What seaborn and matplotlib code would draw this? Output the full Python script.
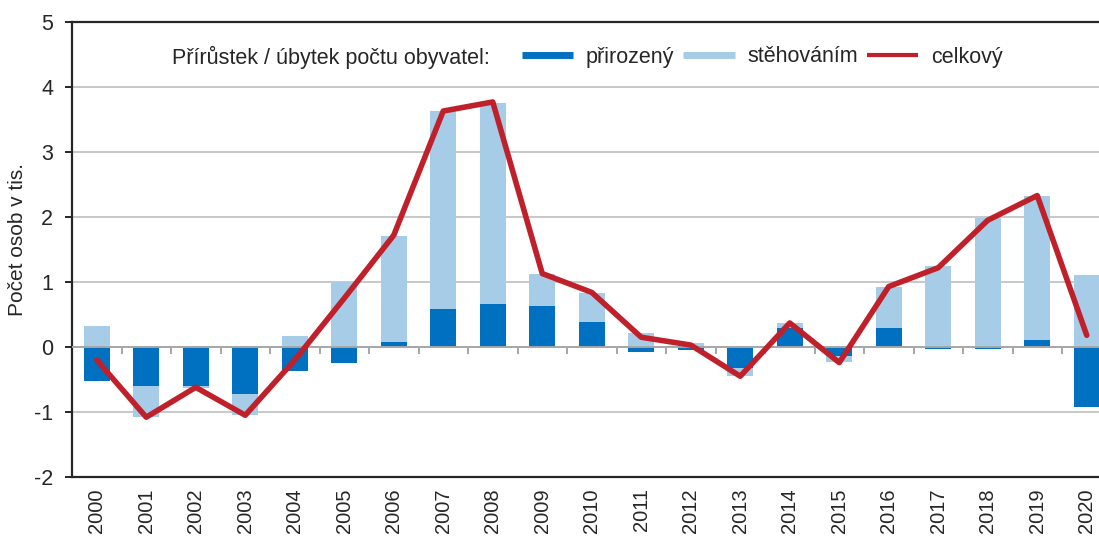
import numpy as np
import pandas as pd
import seaborn as sns
import matplotlib.pyplot as plt
from matplotlib.lines import Line2D

years = [str(y) for y in range(2000, 2021)]
prirozeny = [-0.52, -0.60, -0.60, -0.72, -0.37, -0.25, 0.08, 0.58, 0.66, 0.63, 0.39,
             -0.07, -0.04, -0.32, 0.29, -0.14, 0.29, -0.03, -0.03, 0.11, -0.93]
stehovanim = [0.32, -0.48, -0.03, -0.33, 0.17, 1.00, 1.63, 3.05, 3.10, 0.49, 0.44,
              0.21, 0.06, -0.13, 0.08, -0.09, 0.64, 1.25, 1.98, 2.22, 1.11]
celkovy = [-0.20, -1.08, -0.62, -1.05, -0.20, 0.75, 1.72, 3.63, 3.77, 1.13, 0.84,
           0.15, 0.03, -0.45, 0.37, -0.24, 0.93, 1.22, 1.95, 2.33, 0.18]

c_dark = "#0070C0"
c_light = "#A6CCE8"
c_red = "#C0202A"
c_grid = "#BFBFBF"

sns.set_style("white")
plt.rcParams["font.family"] = ["Liberation Sans", "DejaVu Sans"]
plt.rcParams["axes.unicode_minus"] = False
fs = 15.5

df = pd.DataFrame({"rok": years, "prirozeny": prirozeny,
                   "stehovanim": stehovanim, "celkovy": celkovy})
# excel-style stacking: migration sits on natural only when signs agree
nat = np.array(prirozeny)
mig = np.array(stehovanim)
base = np.where(np.sign(nat) == np.sign(mig), nat, 0.0)

fig = plt.figure(figsize=(10.99, 5.38), dpi=100)
ax = fig.add_axes([72 / 1099, 1 - 477 / 538, (1111.5 - 72) / 1099, (477 - 22) / 538])

for yv in [-1, 1, 2, 3, 4]:
    ax.axhline(yv, color=c_grid, lw=1.2, zorder=0)

sns.barplot(data=df, x="rok", y="prirozeny", color=c_dark, saturation=1,
            width=0.525, linewidth=0, ax=ax, zorder=2)
sns.barplot(data=df, x="rok", y="stehovanim", color=c_light, saturation=1,
            width=0.525, linewidth=0, bottom=base, ax=ax, zorder=2)

ax.axhline(0, color="#A6A6A6", lw=1.4, zorder=3)
ax.vlines(np.arange(len(years) - 1) + 0.5, -0.11, 0, color="#A6A6A6", lw=1.4, zorder=3)

sns.lineplot(x=np.arange(len(years)), y=celkovy, color=c_red, linewidth=4,
             ax=ax, zorder=4)

ax.set_xlim(-0.5, len(years) - 0.5)
ax.set_ylim(-2, 5)
ax.set_yticks(range(-2, 6))
ax.set_xlabel("")
ax.set_ylabel("")
ax.tick_params(axis="x", length=0, pad=8, labelsize=14.5, labelrotation=90)
ax.tick_params(axis="y", length=5, width=1.4, direction="out", pad=8.5,
               labelsize=fs, color="#262626", left=True)
for s in ["left", "top", "bottom"]:
    ax.spines[s].set_color("#262626")
    ax.spines[s].set_linewidth(1.6)
ax.spines["right"].set_visible(False)

fig.text(18 / 1099, 1 - 240 / 538, "Počet osob v tis.", rotation=90,
         ha="center", va="center", fontsize=fs - 0.5)
fig.text(172 / 1099, 1 - 57 / 538, "Přírůstek / úbytek počtu obyvatel:",
         ha="left", va="center", fontsize=fs)

handles = [Line2D([], [], color=c_dark, lw=5, solid_capstyle="butt"),
           Line2D([], [], color=c_light, lw=5, solid_capstyle="butt"),
           Line2D([], [], color=c_red, lw=3, solid_capstyle="butt")]
fig.legend(handles, ["přirozený", "stěhováním", "celkový"], loc="center left",
           bbox_to_anchor=(522 / 1099, 1 - 57 / 538), ncol=3, frameon=False,
           fontsize=fs, handlelength=2.37, handletextpad=0.6, columnspacing=0.42,
           borderpad=0, borderaxespad=0)

fig.savefig("out.png", dpi=100)
